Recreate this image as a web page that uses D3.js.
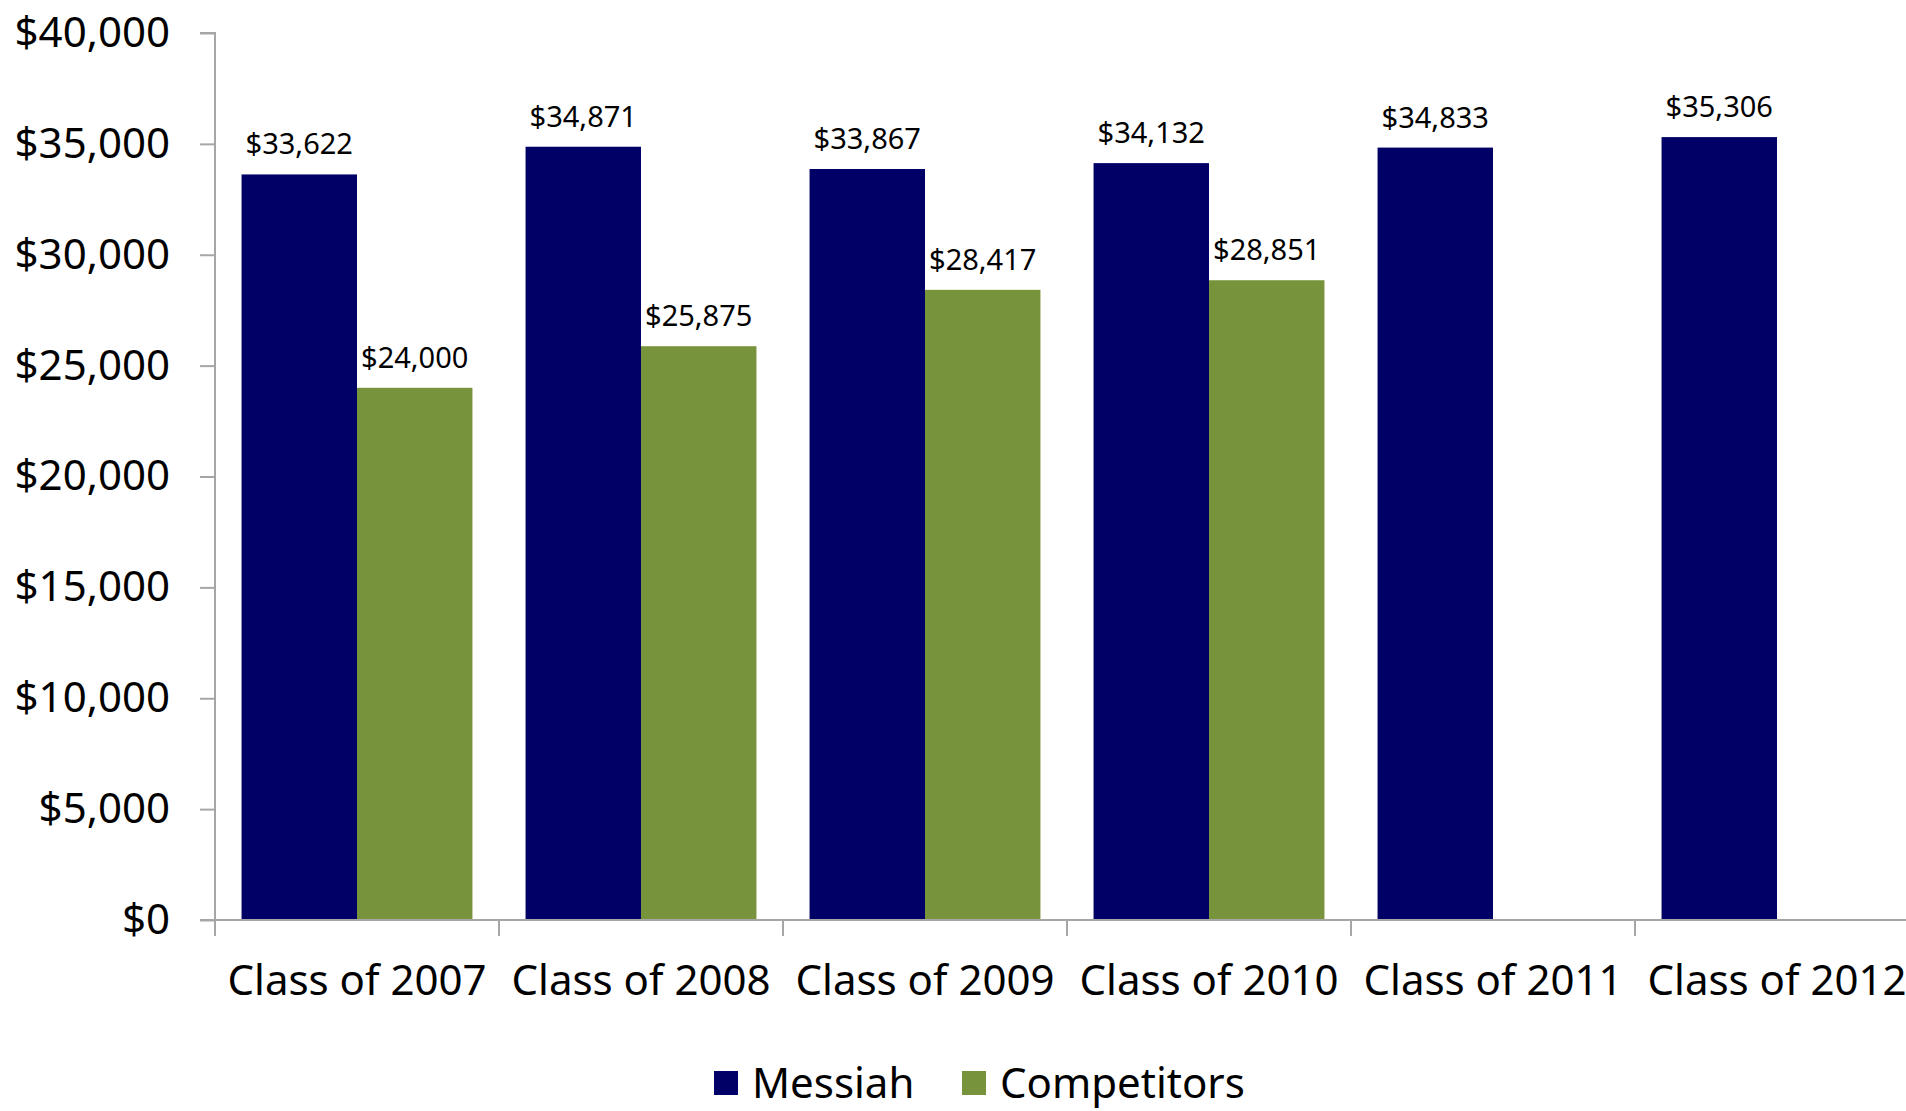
<!DOCTYPE html>
<html>
<head>
<meta charset="utf-8">
<script src="https://cdn.jsdelivr.net/npm/d3@7"></script>
<style>
  html, body { margin: 0; padding: 0; background: #fff; }
  svg { display: block; font-family: "Noto Sans", "Open Sans", sans-serif; }
</style>
</head>
<body>
<div id="chart"></div>
<script>
const CATEGORIES = ["Class of 2007", "Class of 2008", "Class of 2009", "Class of 2010", "Class of 2011", "Class of 2012"];
const SERIES = ["Messiah", "Competitors"];
const MESSIAH = [33622, 34871, 33867, 34132, 34833, 35306];
const COMPETITORS = [24000, 25875, 28417, 28851, null, null];
const Y_TICKS = [0, 5000, 10000, 15000, 20000, 25000, 30000, 35000, 40000];
const COLORS = { Messiah: "#000066", Competitors: "#77933c" };

const W = 1906, H = 1111;
const plot = { left: 215, top: 33, bottom: 920, band: 284 };

const rows = CATEGORIES.map((c, i) => ({
  cat: c,
  values: [
    { series: "Messiah", value: MESSIAH[i] },
    { series: "Competitors", value: COMPETITORS[i] },
  ].filter((d) => d.value != null),
}));

const svg = d3.select("#chart").append("svg")
  .attr("width", W).attr("height", H);

svg.append("rect").attr("width", W).attr("height", H).attr("fill", "#fff");

const x0 = d3.scaleBand()
  .domain(CATEGORIES)
  .range([plot.left, plot.left + plot.band * CATEGORIES.length]);

const x1 = d3.scaleBand()
  .domain(SERIES)
  .range([0, x0.bandwidth()])
  .paddingOuter(0.23);

const y = d3.scaleLinear().domain([0, 40000]).range([plot.bottom, plot.top]);

const fmt = (d) => "$" + d3.format(",")(d);

// y axis
const yAxis = svg.append("g")
  .attr("transform", `translate(${plot.left},0)`)
  .call(d3.axisLeft(y).tickValues(Y_TICKS).tickSize(15).tickPadding(30).tickFormat(fmt));
yAxis.selectAll("path, line").attr("stroke", "#a6a6a6").attr("stroke-width", 2);
yAxis.select(".domain").attr("d", `M-15,${y(40000)}H0V${plot.bottom + 16}`);
yAxis.selectAll("text").attr("font-size", "42px").attr("fill", "#000")
  .attr("font-family", "Noto Sans, sans-serif");

// bars
const groups = svg.selectAll(".grp")
  .data(rows)
  .join("g")
  .attr("class", "grp")
  .attr("transform", (d) => `translate(${x0(d.cat)},0)`);

groups.selectAll("rect")
  .data((d) => d.values)
  .join("rect")
  .attr("x", (d) => x1(d.series))
  .attr("y", (d) => y(d.value))
  .attr("width", x1.bandwidth())
  .attr("height", (d) => y(0) - y(d.value))
  .attr("fill", (d) => COLORS[d.series]);

groups.selectAll("text")
  .data((d) => d.values)
  .join("text")
  .attr("x", (d) => x1(d.series) + x1.bandwidth() / 2)
  .attr("y", (d) => y(d.value) - 20)
  .attr("text-anchor", "middle")
  .attr("font-size", "29px")
  .attr("fill", "#000")
  .text((d) => fmt(d.value));

// x axis line + boundary ticks
svg.append("line")
  .attr("x1", plot.left - 15).attr("x2", W)
  .attr("y1", plot.bottom).attr("y2", plot.bottom)
  .attr("stroke", "#a6a6a6").attr("stroke-width", 2);

svg.selectAll(".xtick")
  .data(CATEGORIES.slice(1))
  .join("line")
  .attr("class", "xtick")
  .attr("x1", (d) => x0(d)).attr("x2", (d) => x0(d))
  .attr("y1", plot.bottom).attr("y2", plot.bottom + 16)
  .attr("stroke", "#a6a6a6").attr("stroke-width", 2);

svg.selectAll(".xlabel")
  .data(CATEGORIES)
  .join("text")
  .attr("class", "xlabel")
  .attr("x", (d) => x0(d) + x0.bandwidth() / 2)
  .attr("y", 995)
  .attr("text-anchor", "middle")
  .attr("font-size", "42px")
  .attr("fill", "#000")
  .text((d) => d);

// legend
const legendItems = [
  { name: "Messiah", x: 714 },
  { name: "Competitors", x: 962 },
];
const legend = svg.selectAll(".legend")
  .data(legendItems)
  .join("g")
  .attr("class", "legend")
  .attr("transform", (d) => `translate(${d.x},1071)`);
legend.append("rect")
  .attr("width", 24).attr("height", 24)
  .attr("fill", (d) => COLORS[d.name]);
legend.append("text")
  .attr("x", 38).attr("y", 27)
  .attr("font-size", "42px")
  .attr("fill", "#000")
  .text((d) => d.name);
</script>
</body>
</html>
